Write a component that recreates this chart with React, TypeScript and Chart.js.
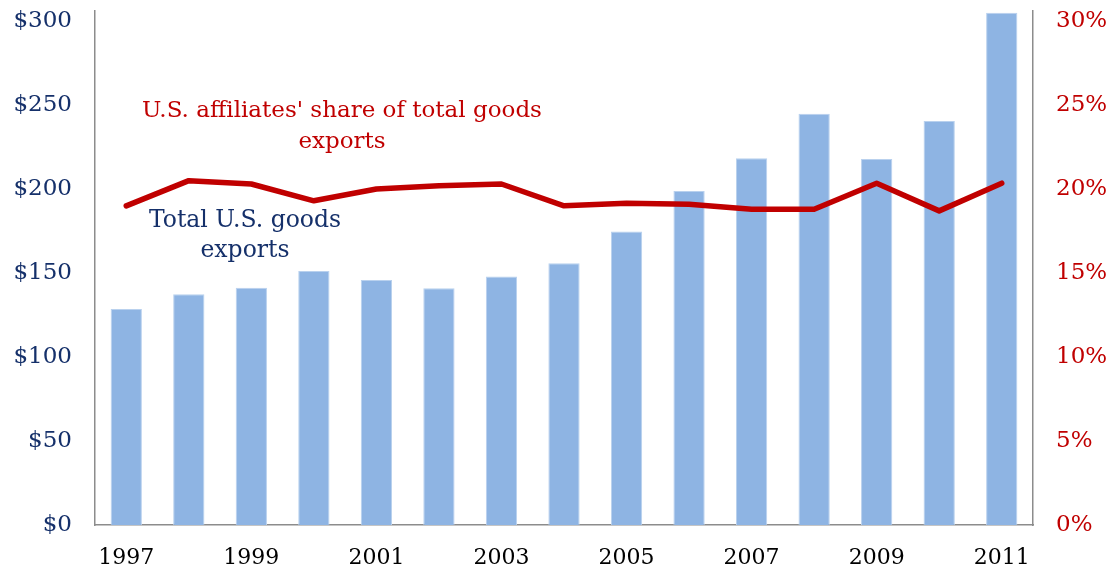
import React, { useEffect, useRef } from "react";
import { Chart, registerables } from "chart.js";

Chart.register(...registerables);

const years = ["1997","1998","1999","2000","2001","2002","2003","2004","2005","2006","2007","2008","2009","2010","2011"];
const totalExports = [128.6, 137.3, 141.3, 151.2, 145.8, 140.9, 148.0, 155.8, 174.8, 198.8, 218.3, 244.8, 217.9, 240.5, 305];
const affiliateShare = [19.0, 20.5, 20.3, 19.3, 20.0, 20.2, 20.3, 19.0, 19.15, 19.1, 18.8, 18.8, 20.35, 18.7, 20.35];
const leftTicks = [0, 50, 100, 150, 200, 250, 300];
const rightTicks = [0, 5, 10, 15, 20, 25, 30];
const shareLabel = ["U.S. affiliates' share of total goods", "exports"];
const totalLabel = ["Total U.S. goods", "exports"];

const FONT = "'DejaVu Serif', serif";
const NAVY = "#15306A";
const RED = "#C00000";
const AXIS = "#8C8C8C";

const annotations = {
  id: "annotations",
  afterDraw(chart: any) {
    const ctx = chart.ctx;
    ctx.save();
    ctx.textAlign = "center";
    ctx.textBaseline = "middle";
    ctx.font = `23px ${FONT}`;
    ctx.fillStyle = RED;
    ctx.fillText(shareLabel[0], 342, 111);
    ctx.fillText(shareLabel[1], 342, 142);
    ctx.font = `23.5px ${FONT}`;
    ctx.fillStyle = NAVY;
    ctx.fillText(totalLabel[0], 245, 221);
    ctx.fillText(totalLabel[1], 245, 251);
    ctx.restore();
  },
};

export default function App() {
  const ref = useRef<HTMLCanvasElement>(null);
  useEffect(() => {
    document.body.style.margin = "0";
    const chart = new Chart(ref.current!, {
      type: "bar",
      data: {
        labels: years,
        datasets: [
          {
            type: "line",
            data: affiliateShare,
            yAxisID: "y1",
            borderColor: RED,
            borderWidth: 5.5,
            pointRadius: 0,
            tension: 0,
            borderCapStyle: "round",
            borderJoinStyle: "round",
            order: 0,
          } as any,
          {
            type: "bar",
            data: totalExports,
            yAxisID: "y",
            backgroundColor: "#8EB4E3",
            borderColor: "#B9D1EE",
            borderWidth: { top: 1, left: 1, right: 1, bottom: 0 },
            categoryPercentage: 1,
            barPercentage: 0.5,
            order: 1,
          } as any,
        ],
      },
      options: {
        responsive: false,
        animation: false,
        layout: { padding: { top: 11, left: 0, right: 0, bottom: 0 } },
        plugins: { legend: { display: false }, tooltip: { enabled: false } },
        scales: {
          x: {
            grid: { display: false, drawTicks: false },
            border: { display: true, color: AXIS, width: 1.5 },
            ticks: {
              autoSkip: false,
              maxRotation: 0,
              padding: 20,
              color: "#000000",
              font: { family: FONT, size: 22 },
              callback: (_v: any, i: number) => (i % 2 === 0 ? years[i] : ""),
            },
            afterFit: (s: any) => { s.height = 49; s.paddingLeft = 0; s.paddingRight = 0; },
          },
          y: {
            position: "left",
            min: 0,
            max: 306,
            grid: { display: false, drawTicks: false },
            border: { display: true, color: AXIS, width: 1.5 },
            afterBuildTicks: (s: any) => { s.ticks = leftTicks.map((v) => ({ value: v })); },
            ticks: {
              padding: 23,
              color: NAVY,
              font: { family: FONT, size: 23 },
              callback: (v: any) => "$" + v,
            },
            afterFit: (s: any) => { s.width = 95; s.paddingTop = 0; s.paddingBottom = 0; },
          },
          y1: {
            position: "right",
            min: 0,
            max: 30.6,
            grid: { display: false, drawTicks: false },
            border: { display: true, color: AXIS, width: 1.5 },
            afterBuildTicks: (s: any) => { s.ticks = rightTicks.map((v) => ({ value: v })); },
            ticks: {
              padding: 23,
              color: RED,
              font: { family: FONT, size: 23 },
              callback: (v: any) => v + "%",
            },
            afterFit: (s: any) => { s.width = 79; s.paddingTop = 0; s.paddingBottom = 0; },
          },
        },
      },
      plugins: [annotations],
    });
    return () => chart.destroy();
  }, []);
  return (
    <div style={{ width: 1112, height: 574 }}>
      <canvas ref={ref} width={1112} height={574} />
    </div>
  );
}
